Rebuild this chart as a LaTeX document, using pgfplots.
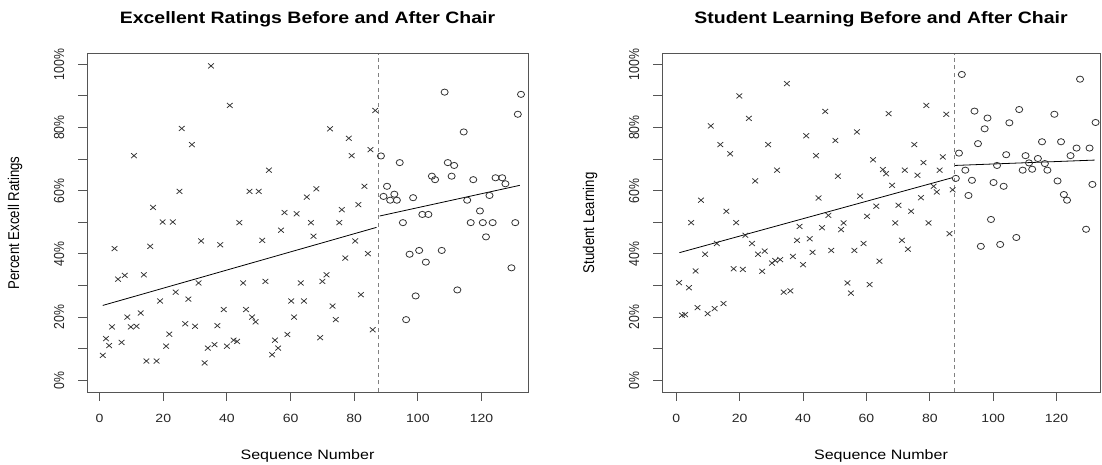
\documentclass[border=0pt]{standalone}
\usepackage{fontspec}
\setmainfont{Liberation Sans}
\usepackage{graphicx}
\usepackage{pgfplots}
\pgfplotsset{compat=1.18}
\newcommand\hs[1]{\scalebox{1.18}[1]{#1}}
\newcommand\vs[1]{\scalebox{1}[1.18]{#1}}
\definecolor{boxc}{HTML}{555555}
\definecolor{ptc}{HTML}{333333}
\definecolor{dashc}{HTML}{808080}
\pgfplotsset{
 rplot/.style={
  scale only axis, height=338.4pt,
  ymin=-3.7, ymax=103.4,
  axis line style={boxc, line width=0.9pt},
  tick style={boxc, line width=0.9pt},
  tick align=outside, major tick length=9pt,
  tick pos=left,
  xtick={0,20,...,120},
  xticklabels={\hs{0},\hs{20},\hs{40},\hs{60},\hs{80},\hs{100},\hs{120}},
  ytick={0,10,...,100},
  yticklabels={\vs{0\%},{},\vs{20\%},{},\vs{40\%},{},\vs{60\%},{},\vs{80\%},{},\vs{100\%}},
  ticklabel style={font=\fontsize{11.9}{13}\selectfont, text=black!85},
  yticklabel style={rotate=90, anchor=base, yshift=14pt, font=\fontsize{12.3}{13}\selectfont},
  xticklabel style={anchor=base, yshift=-22pt},
  minor tick num=0,
  title style={at={([yshift=24pt]axis description cs:0.5,1)}, anchor=base, font=\fontsize{16.5}{18}\bfseries},
  xlabel style={at={([yshift=-67pt]axis description cs:0.5,0)}, anchor=base, font=\fontsize{13.6}{15}\selectfont},
  ylabel style={at={([xshift=-72pt]axis description cs:0,0.5)}, anchor=center, font=\fontsize{13.2}{15}\selectfont},
 },
 cross/.style={only marks, mark=x, mark size=3.5pt, color=ptc, mark options={line width=0.75pt, xscale=1.15}},
 circ/.style={only marks, mark=o, mark size=3.1pt, color=ptc, mark options={line width=0.8pt, xscale=1.15}},
 regl/.style={black, line width=0.8pt, no marks},
 vdash/.style={dashc, line width=1.1pt, dash pattern=on 4pt off 3.5pt, no marks},
}
\begin{document}
\begin{tikzpicture}
\useasboundingbox (0,0) rectangle (1102pt,465pt);
\begin{axis}[rplot, at={(87pt,73pt)}, anchor=south west, width=441pt,
  xmin=-3.96, xmax=134.6,
  title={\hs{Excellent Ratings Before and After Chair}},
  xlabel={\hs{Sequence Number}}, ylabel={\vs{Percent Excell Ratings}}]
\addplot[cross] table {
1 7.9
2 13.2
3 11.0
3.9 16.9
4.7 41.7
5.8 32.0
6.9 12.0
7.9 33.2
8.7 20.0
9.8 16.9
10.8 71.1
11.6 17.1
12.9 21.3
13.9 33.4
14.7 6.1
15.9 42.4
16.8 54.7
17.9 6.1
19.0 25.1
19.8 50.1
20.9 10.8
21.9 14.6
23.0 50.1
23.9 27.9
25.1 59.8
25.8 79.7
26.9 17.9
27.9 25.7
29.0 74.6
30.0 17.1
31.1 30.8
31.9 44.1
33.0 5.5
34.0 10.2
35.0 99.5
36.1 11.3
37.0 17.3
37.9 42.9
39.0 22.4
40.0 10.8
40.9 87.0
42.1 12.7
43.2 12.3
43.9 49.9
45.1 30.8
46.0 22.4
47.1 59.8
47.9 20.0
49.0 18.5
50.0 59.8
51.1 44.3
52.1 31.3
53.2 66.5
54.2 8.1
55.1 12.7
56.1 10.2
57.0 47.5
58.1 53.1
59.0 14.5
60.2 25.1
61.1 20.0
61.9 52.7
63.2 30.8
64.2 25.1
65.1 58.0
66.4 49.9
67.2 45.6
68.1 60.6
69.3 13.5
70.0 31.3
71.3 33.4
72.4 79.6
73.2 23.5
74.2 19.2
75.3 49.9
76.1 54.0
77.2 38.7
78.3 76.6
79.2 71.1
80.3 44.1
81.3 55.6
82.1 27.1
83.2 61.4
84.3 40.1
85.1 73.0
85.8 16.0
86.6 85.4
};
\addplot[circ] table {
88.4 71.0
89.2 58.2
90.3 61.4
91.3 57.0
92.6 58.9
93.4 57.0
94.3 68.9
95.3 49.9
96.3 19.2
97.4 39.9
98.5 57.8
99.3 26.7
100.4 41.1
101.4 52.5
102.5 37.4
103.3 52.5
104.4 64.6
105.4 63.5
107.5 41.1
108.4 91.2
109.4 68.9
110.6 64.6
111.4 68.0
112.4 28.6
114.4 78.6
115.5 57.0
116.6 49.9
117.4 63.5
119.5 53.6
120.4 49.9
121.4 45.4
122.5 58.5
123.5 49.9
124.4 64.1
126.5 64.1
127.5 62.2
129.4 35.6
130.6 49.9
131.4 84.2
132.4 90.5
};
\addplot[regl] coordinates {(1,23.7) (87,48.4)};
\addplot[regl] coordinates {(88,52.0) (132,61.7)};
\addplot[vdash] coordinates {(87.5,-3.7) (87.5,103.4)};
\end{axis}
\begin{axis}[rplot, at={(662pt,73pt)}, anchor=south west, width=438pt,
  xmin=-4.5, xmax=133.7,
  title={\hs{Student Learning Before and After Chair}},
  xlabel={\hs{Sequence Number}}, ylabel={\vs{Student Learning}}]
\addplot[cross] table {
0.9 30.9
1.8 20.6
2.8 20.8
4.0 29.3
4.7 49.9
6.1 34.6
6.7 23.0
7.8 57.0
9.1 39.9
9.9 21.1
10.9 80.5
12.1 22.7
12.8 43.3
13.9 74.6
14.9 24.3
15.8 53.5
17.0 71.7
18.1 35.3
18.9 49.9
19.9 90.0
21.0 35.1
21.8 45.9
22.9 82.9
23.9 43.3
24.9 63.1
25.8 39.9
27.1 34.5
27.9 40.9
29.0 74.6
30.2 37.1
31.2 37.9
31.8 66.5
32.8 38.2
33.9 27.9
34.9 93.9
36.0 28.3
36.8 39.2
38.1 44.3
38.9 48.7
40.0 36.6
41.0 77.4
42.1 44.8
43.0 40.5
44.1 71.1
44.9 57.7
46.0 48.3
47.0 85.1
48.0 52.2
48.9 41.1
50.2 75.9
51.0 64.6
52.0 47.7
52.8 49.8
54.0 30.8
55.1 27.6
56.2 41.1
57.0 78.6
58.0 58.3
59.1 43.3
60.2 51.9
61.0 30.3
62.1 69.8
63.1 55.1
64.1 37.7
65.2 66.7
66.2 65.4
67.0 84.4
68.1 61.7
69.1 49.8
70.1 55.4
71.2 44.3
72.1 66.5
73.1 41.5
74.1 53.5
75.1 74.6
76.1 64.9
77.2 57.8
78.0 68.9
78.9 87.0
79.6 49.8
81.2 61.4
82.2 59.6
83.1 66.5
84.1 70.7
85.2 84.2
86.2 46.4
87.2 60.3
};
\addplot[circ] table {
88.2 63.9
89.2 71.9
90.1 96.8
91.2 66.5
92.2 58.5
93.3 63.3
94.1 85.2
95.2 74.9
96.1 42.4
97.3 79.6
98.2 83.0
99.3 50.9
100.1 62.6
101.2 68.0
102.2 43.0
103.3 61.4
104.1 71.4
105.1 81.5
107.3 45.2
108.2 85.7
109.3 66.5
110.2 71.1
111.3 68.8
112.3 66.8
114.1 70.2
115.4 75.5
116.3 68.6
117.1 66.5
119.3 84.2
120.3 63.1
121.4 75.5
122.3 58.8
123.3 57.0
124.4 71.1
126.3 73.5
127.4 95.3
129.3 47.8
130.4 73.5
131.3 62.0
132.3 81.6
};
\addplot[regl] coordinates {(1,40.4) (87,64.1)};
\addplot[regl] coordinates {(88,68.0) (132,69.7)};
\addplot[vdash] coordinates {(87.7,-3.7) (87.7,103.4)};
\end{axis}
\end{tikzpicture}
\end{document}
